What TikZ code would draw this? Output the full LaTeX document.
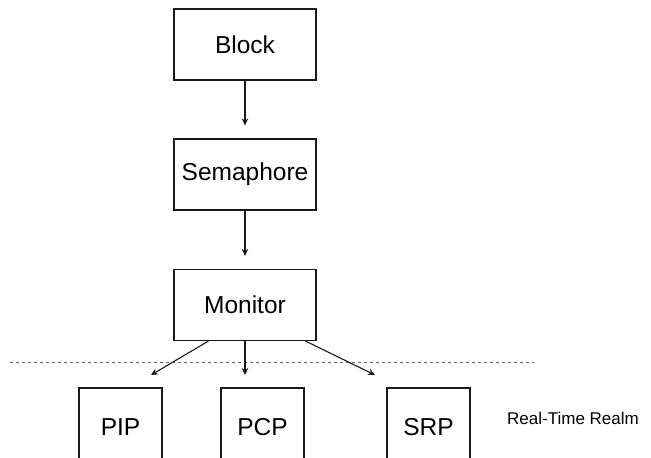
\documentclass[tikz,border=0pt]{standalone}
\usepackage{fontspec}
\setmainfont{Liberation Sans}
\usetikzlibrary{arrows.meta,calc}
\begin{document}
\begin{tikzpicture}[x=1pt,y=-1pt,
  box/.style={draw=black!90,line width=1.2pt,minimum width=142pt,minimum height=71pt,inner sep=0pt,font=\fontsize{24.5}{29}\selectfont},
  sbox/.style={draw=black!90,line width=1.2pt,minimum width=83pt,minimum height=78pt,inner sep=0pt,font=\fontsize{24.5}{29}\selectfont},
  conn/.style={draw=black!90,line width=1.1pt,-{Stealth[length=7pt,width=6.5pt]}},
  realm/.style={draw=black!60,line width=1pt,dash pattern=on 3pt off 3pt}]
\useasboundingbox (0,0) rectangle (651,458);
\clip (0,0) rectangle (651,458);
\node[box] (block) at (245,44.5) {Block};
\node[box] (sema) at (245,174.5) {Semaphore};
\node[box] (mon) at (245,305) {Monitor};
\node[sbox] (pip) at (120.5,427) {PIP};
\node[sbox] (pcp) at (262.5,427) {PCP};
\node[sbox] (srp) at (428.5,427) {SRP};
\node[font=\fontsize{17}{20}\selectfont,anchor=west,inner sep=0pt] (rt) at (507,418) {Real-Time Realm};
\coordinate (dl) at (10,362);
\coordinate (dr) at (534,362);
\draw[realm] (dl) -- (dr);
\coordinate (pipin) at (151,375);
\coordinate (pcpin) at (245,375);
\coordinate (srpin) at (375,375);
\draw[conn,shorten >=13pt] (block) -- (sema);
\draw[conn,shorten >=13pt] (sema) -- (mon);
\draw[conn] ($(mon.south west)+(35,0)$) -- (pipin);
\draw[conn] (mon.south) -- (pcpin);
\draw[conn] ($(mon.south east)+(-11,0)$) -- (srpin);
\end{tikzpicture}
\end{document}
